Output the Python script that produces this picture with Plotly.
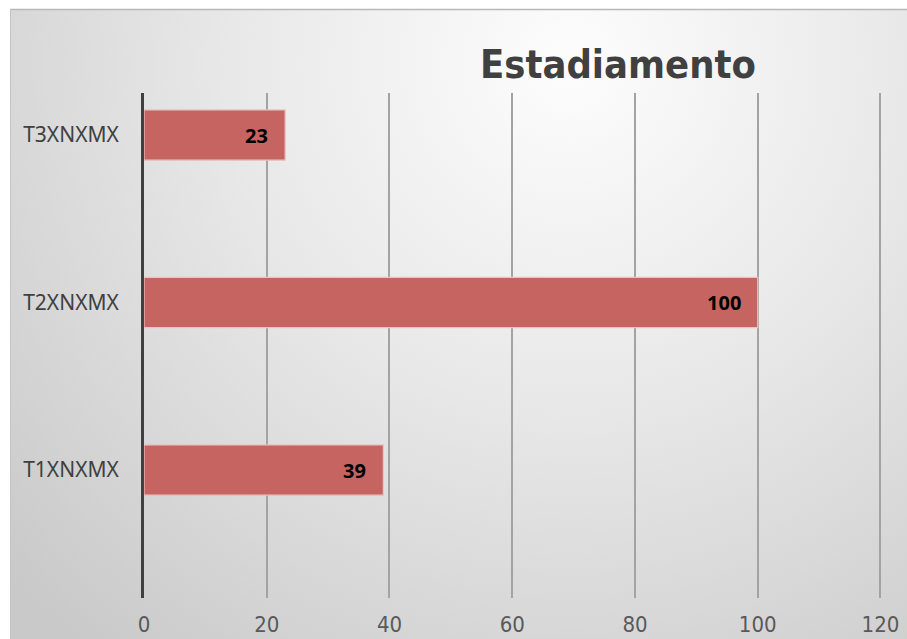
import base64
import plotly.graph_objects as go

categories = ["T1XNXMX", "T2XNXMX", "T3XNXMX"]
values = [39, 100, 23]
x_ticks = [0, 20, 40, 60, 80, 100, 120]
title_text = "Estadiamento"

W, H = 907, 639

# background radial gradient (Excel style chart area)
svg = f'''<svg xmlns="http://www.w3.org/2000/svg" width="897" height="630" viewBox="0 0 897 630" preserveAspectRatio="none">
<defs><radialGradient id="g" gradientUnits="userSpaceOnUse" cx="560" cy="55" r="760">
<stop offset="0" stop-color="#fdfdfd"/>
<stop offset="0.45" stop-color="#e8e8e8"/>
<stop offset="1" stop-color="#c9c9c9"/>
</radialGradient></defs>
<rect x="0" y="0" width="897" height="630" fill="url(#g)"/>
</svg>'''
bg_src = "data:image/svg+xml;base64," + base64.b64encode(svg.encode()).decode()

fig = go.Figure()
fig.add_trace(go.Bar(
    y=categories, x=values, orientation="h", width=0.3,
    marker=dict(color="#C66462", line=dict(color="#E8C4C3", width=1.2)),
    hoverinfo="skip",
))

for c, v in zip(categories, values):
    fig.add_annotation(x=v, y=c, xref="x", yref="y", text=f"<b>{v}</b>",
                       showarrow=False, xanchor="right", yanchor="middle",
                       xshift=-15, font=dict(family="Noto Sans", size=20, color="#000000"))

fig.add_annotation(x=618 / W, y=1 - 64 / H, xref="paper", yref="paper",
                   text=f"<b>{title_text}</b>", showarrow=False,
                   xanchor="center", yanchor="middle",
                   font=dict(family="DejaVu Sans Condensed", size=39.5, color="#404040"))

fig.update_layout(
    width=W, height=H,
    margin=dict(l=0, r=0, t=0, b=0),
    paper_bgcolor="#ffffff",
    plot_bgcolor="rgba(0,0,0,0)",
    showlegend=False,
    images=[dict(source=bg_src, xref="paper", yref="paper", x=10 / W, y=1 - 9 / H,
                 sizex=1 - 10 / W, sizey=1 - 9 / H, xanchor="left", yanchor="top",
                 sizing="stretch", layer="below")],
    shapes=[
        dict(type="line", xref="paper", yref="paper", x0=10 / W, x1=1, y0=1 - 9.5 / H, y1=1 - 9.5 / H,
             line=dict(color="#b8b8b8", width=1.5)),
        dict(type="line", xref="paper", yref="paper", x0=10.5 / W, x1=10.5 / W, y0=0, y1=1 - 9 / H,
             line=dict(color="#c4c4c4", width=1)),
    ],
    xaxis=dict(
        domain=[144 / W, 881.7 / W], range=[0, 120.2], automargin=False,
        tickvals=x_ticks, ticktext=[str(t) for t in x_ticks],
        showgrid=True, gridcolor="#a3a3a3", gridwidth=2,
        zeroline=False, showline=False,
        ticks="outside", ticklen=7, tickcolor="rgba(0,0,0,0)",
        tickfont=dict(family="DejaVu Sans Condensed", size=22, color="#595959"),
    ),
    yaxis=dict(
        domain=[1 - 598 / H, 1 - 93 / H], automargin=False,
        categoryorder="array", categoryarray=categories,
        range=[-0.764, 2.251],
        showgrid=False, zeroline=False,
        showline=True, linecolor="#404040", linewidth=3,
        ticks="outside", ticklen=18, tickcolor="rgba(0,0,0,0)",
        tickfont=dict(family="Noto Sans", size=21, color="#404040"),
    ),
)

fig.write_html("out.html", config={"displayModeBar": False},
               post_script="document.body.style.margin='0';document.body.style.overflow='hidden';")
